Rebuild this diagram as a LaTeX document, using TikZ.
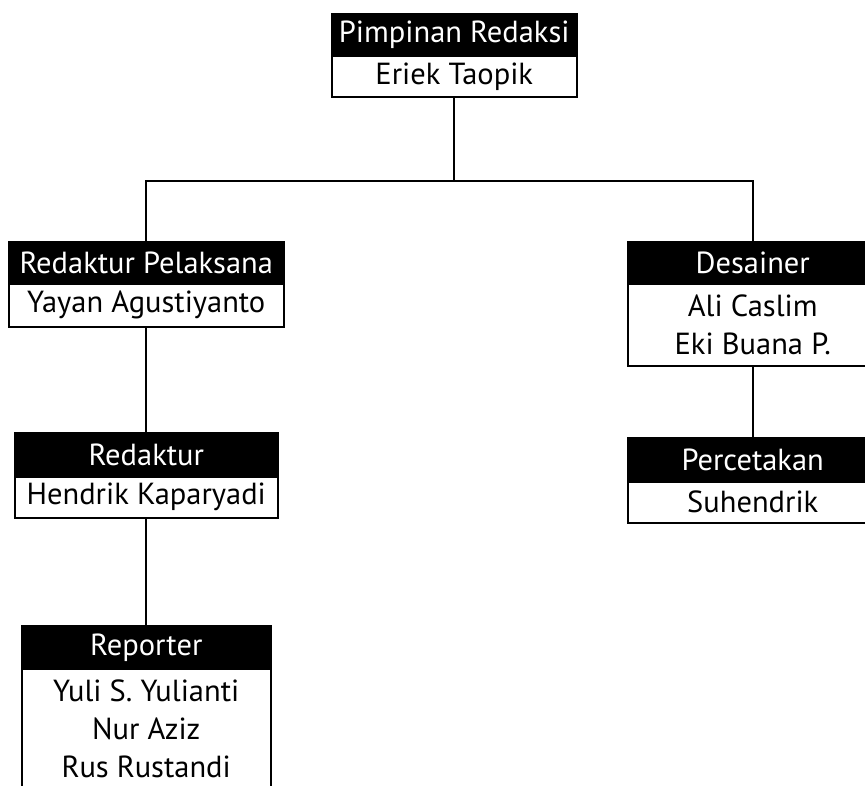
\documentclass[tikz,border=0pt]{standalone}
\usepackage{fontspec}
\setmainfont{PT Sans}
\begin{document}
\begin{tikzpicture}[x=1pt,y=-1pt,
  hdr/.style={draw=black,fill=black,text=white,line width=1.5pt,inner sep=0pt,anchor=north west,
    font=\fontsize{30.5}{38}\selectfont},
  bdy/.style={draw=black,fill=white,line width=1.5pt,inner sep=0pt,anchor=north west,align=center,
    font=\fontsize{30.5}{38}\selectfont},
  conn/.style={draw=black,line width=2pt}]
\useasboundingbox[fill=white] (0,0) rectangle (865,785);
% top
\node[hdr,minimum width=245pt,minimum height=42pt] (toph) at (331,13) {Pimpinan Redaksi};
\node[bdy,minimum width=245pt,minimum height=41pt] (topb) at (331,55) {Eriek Taopik};
% redaktur pelaksana
\node[hdr,minimum width=275pt,minimum height=42pt] (rph) at (8,241) {Redaktur Pelaksana};
\node[bdy,minimum width=275pt,minimum height=43pt] (rpb) at (8,283) {Yayan Agustiyanto};
% desainer
\node[hdr,minimum width=250pt,minimum height=42pt] (dh) at (627,241) {Desainer};
\node[bdy,minimum width=250pt,minimum height=82pt] (db) at (627,283) {Ali Caslim\\Eki Buana P.};
% redaktur
\node[hdr,minimum width=263pt,minimum height=44pt] (rh) at (14,432) {Redaktur};
\node[bdy,minimum width=263pt,minimum height=41pt] (rb) at (14,476) {Hendrik Kaparyadi};
% percetakan
\node[hdr,minimum width=250pt,minimum height=44pt] (ph) at (627,437) {Percetakan};
\node[bdy,minimum width=250pt,minimum height=41pt] (pb) at (627,481) {Suhendrik};
% reporter
\node[hdr,minimum width=249pt,minimum height=43pt] (reph) at (21,625) {Reporter};
\node[bdy,minimum width=249pt,minimum height=120pt] (repb) at (21,668) {Yuli S. Yulianti\\Nur Aziz\\Rus Rustandi};
% connectors
\coordinate (hub) at (453,181);
\draw[conn] (topb.south) -- (topb.south |- hub);
\draw[conn] (rph.north) -- (rph.north |- hub) -- (dh.north |- hub) -- (dh.north);
\draw[conn] (rpb.south) -- (rh.north);
\draw[conn] (rb.south) -- (reph.north);
\draw[conn] (db.south) -- (ph.north);
\end{tikzpicture}
\end{document}
